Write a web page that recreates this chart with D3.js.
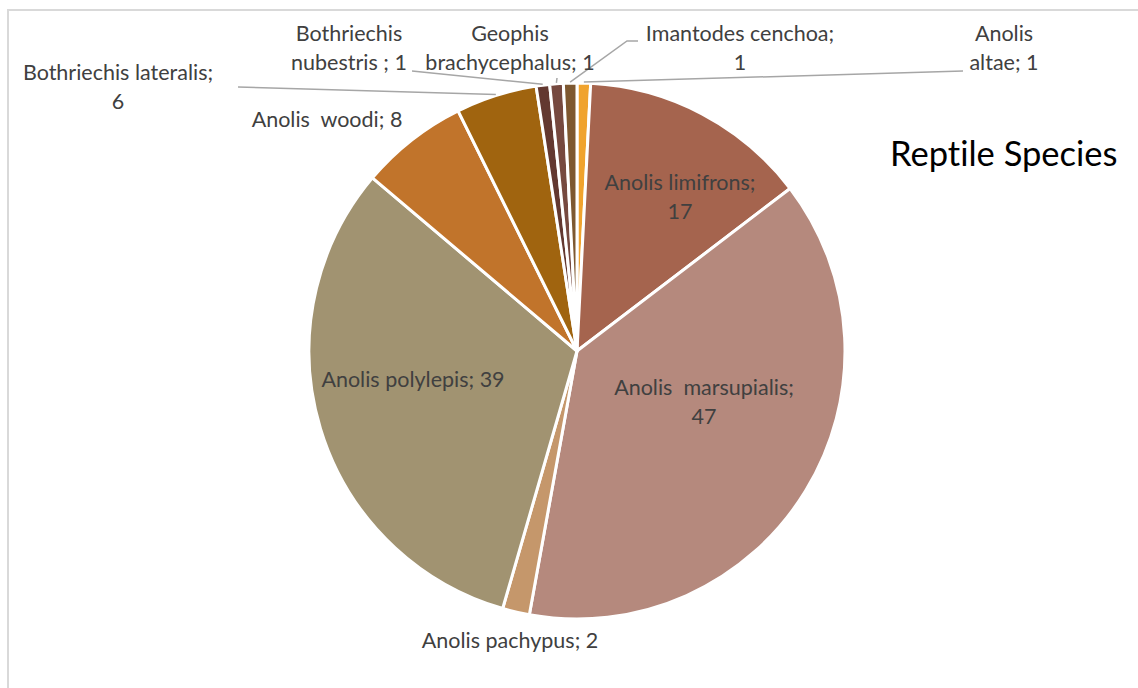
<!DOCTYPE html>
<html>
<head>
<meta charset="utf-8">
<script src="https://cdn.jsdelivr.net/npm/d3@7"></script>
<style>
  html, body { margin: 0; padding: 0; background: #fff; }
  svg { display: block; }
  text { font-family: Lato, "Open Sans", sans-serif; white-space: pre; font-variant-ligatures: none; font-feature-settings: "liga" 0; }
</style>
</head>
<body>
<svg id="chart" width="1138" height="688"></svg>
<script>
// Species observed and their counts (clockwise from 12 o'clock)
const species = [
  "Anolis altae", "Anolis limifrons", "Anolis marsupialis", "Anolis pachypus",
  "Anolis polylepis", "Anolis woodi", "Bothriechis lateralis",
  "Bothriechis nubestris", "Geophis brachycephalus", "Imantodes cenchoa"
];
const counts = [1, 17, 47, 2, 39, 8, 6, 1, 1, 1];
// Data-label text lines, as written on the chart
const labelLines = [
  ["Anolis", "altae; 1"],
  ["Anolis limifrons;", "17"],
  ["Anolis  marsupialis;", "47"],
  ["Anolis pachypus; 2"],
  ["Anolis polylepis; 39"],
  ["Anolis  woodi; 8"],
  ["Bothriechis lateralis;", "6"],
  ["Bothriechis", "nubestris ; 1"],
  ["Geophis", "brachycephalus; 1"],
  ["Imantodes cenchoa;", "1"]
];
const sliceColors = [
  "#F0A32E", "#A5644E", "#B5897D", "#C5976B", "#A19371",
  "#C1742B", "#A0640F", "#633830", "#76493F", "#7E5830"
];
const title = "Reptile Species";

// Layout: label anchor (centre x, first baseline y) and leader-line start points
const labelPos = [
  [1004, 41], [680, 190], [704, 395], [510, 648], [413, 387],
  [327, 127], [118, 80], [349, 41], [510, 41], [740, 41]
];
const leaderStart = [
  [[963, 71]], null, null, null, null, null,
  [[238, 87]], [[412, 71]], [[557, 78]], [[638, 41], [627, 41]]
];

const W = 1138, H = 688;
const cx = 577, cy = 351, R = 268;
const svg = d3.select("#chart");

// Chart-area frame
svg.append("rect")
  .attr("x", 8).attr("y", 10).attr("width", W + 10).attr("height", H + 10)
  .attr("fill", "#fff").attr("stroke", "#D9D9D9").attr("stroke-width", 2);

const data = species.map((s, i) => ({ name: s, value: counts[i], i }));
const pie = d3.pie().value(d => d.value).sort(null).startAngle(0).endAngle(2 * Math.PI);
const arcs = pie(data);
const arc = d3.arc().innerRadius(0).outerRadius(R);
const color = d3.scaleOrdinal().domain(species).range(sliceColors);

const g = svg.append("g").attr("transform", `translate(${cx},${cy})`);
g.selectAll("path.slice").data(arcs).enter().append("path")
  .attr("class", "slice")
  .attr("d", arc)
  .attr("fill", d => color(d.data.name))
  .attr("stroke", "#fff").attr("stroke-width", 3).attr("stroke-linejoin", "round");

// Leader lines from outside labels to the slice edge
function edgePoint(a, r) {
  const m = (a.startAngle + a.endAngle) / 2;
  return [cx + r * Math.sin(m), cy - r * Math.cos(m)];
}
arcs.forEach((a, i) => {
  if (!leaderStart[i]) return;
  const pts = leaderStart[i].concat([edgePoint(a, R + 1)]);
  svg.append("path")
    .attr("d", d3.line()(pts))
    .attr("fill", "none").attr("stroke", "#A6A6A6").attr("stroke-width", 1.5);
});

// Data labels
const lineGap = 29;
arcs.forEach((a, i) => {
  const t = svg.append("text")
    .attr("x", labelPos[i][0]).attr("y", labelPos[i][1])
    .attr("text-anchor", "middle")
    .attr("font-size", 21.5).attr("fill", "#404040");
  labelLines[i].forEach((ln, k) => {
    t.append("tspan").attr("x", labelPos[i][0]).attr("y", labelPos[i][1] + k * lineGap).text(ln);
  });
});

// Title
svg.append("text")
  .attr("x", 890).attr("y", 166)
  .attr("font-size", 34.5).attr("fill", "#000")
  .text(title);
</script>
</body>
</html>
